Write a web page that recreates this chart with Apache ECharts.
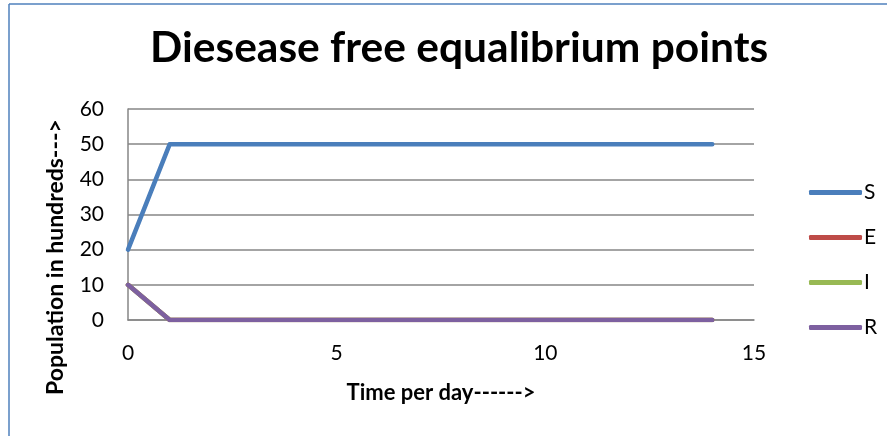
<!DOCTYPE html>
<html>
<head>
<meta charset="utf-8">
<script src="https://cdn.jsdelivr.net/npm/echarts@6/dist/echarts.min.js"></script>
<style>
  html, body { margin: 0; padding: 0; background: #fff; }
  #chart { width: 887px; height: 436px; }
</style>
</head>
<body>
<div id="chart"></div>
<script>
// Time (days) and compartment populations (hundreds)
const days = [0, 1, 2, 3, 4, 5, 6, 7, 8, 9, 10, 11, 12, 13, 14];
const susceptible = [20, 50, 50, 50, 50, 50, 50, 50, 50, 50, 50, 50, 50, 50, 50];
const exposed     = [10, 0, 0, 0, 0, 0, 0, 0, 0, 0, 0, 0, 0, 0, 0];
const infected    = [10, 0, 0, 0, 0, 0, 0, 0, 0, 0, 0, 0, 0, 0, 0];
const recovered   = [10, 0, 0, 0, 0, 0, 0, 0, 0, 0, 0, 0, 0, 0, 0];

const seriesNames = ['S', 'E', 'I', 'R'];
const seriesData = [susceptible, exposed, infected, recovered];
const seriesColors = ['#4a7ebb', '#be4b48', '#98b954', '#7d60a0'];

const FONT = 'Lato, "Open Sans", sans-serif';

const chart = echarts.init(document.getElementById('chart'));
chart.setOption({
  animation: false,
  backgroundColor: '#ffffff',
  title: {
    text: 'Diesease free equalibrium points',
    left: 145,
    top: 22,
    padding: [5, 0, 5, 5],
    textStyle: { fontFamily: FONT, fontWeight: 'bold', fontSize: 42.5, color: '#000' }
  },
  grid: { left: 128, right: 133, top: 109, bottom: 116, containLabel: false },
  legend: {
    orient: 'vertical',
    left: 804,
    top: 177,
    itemWidth: 53,
    itemHeight: 5,
    itemGap: 24,
    icon: 'roundRect',
    data: seriesNames,
    textStyle: { fontFamily: FONT, fontSize: 21, color: '#000', padding: [0, 0, 0, -3] }
  },
  xAxis: {
    type: 'value',
    min: 0,
    max: 15,
    interval: 5,
    name: 'Time per day------>',
    nameLocation: 'middle',
    nameGap: 62,
    nameTextStyle: { fontFamily: FONT, fontWeight: 'bold', fontSize: 22, color: '#000' },
    axisLine: { show: true, onZero: false, lineStyle: { color: '#868686', width: 1.5 } },
    axisTick: { show: false },
    splitLine: { show: false },
    axisLabel: { fontFamily: FONT, fontSize: 21, color: '#000', margin: 23 }
  },
  yAxis: {
    type: 'value',
    min: 0,
    max: 60,
    interval: 10,
    axisLine: { show: true, lineStyle: { color: '#868686', width: 1.5 } },
    axisTick: { show: false },
    splitLine: { show: true, lineStyle: { color: '#868686', width: 1.5 } },
    axisLabel: { fontFamily: FONT, fontSize: 21, color: '#000', margin: 24 }
  },
  graphic: [
    // Outer chart frame (left and top edges)
    { type: 'line', shape: { x1: 9, y1: 4, x2: 9, y2: 436 }, style: { stroke: '#4f81bd', lineWidth: 1.5 } },
    { type: 'line', shape: { x1: 9, y1: 4, x2: 887, y2: 4 }, style: { stroke: '#4f81bd', lineWidth: 1.5 } },
    {
      type: 'text',
      x: 56,
      y: 257,
      rotation: Math.PI / 2,
      style: {
        text: 'Population in hundreds--->',
        fontFamily: FONT,
        fontWeight: 'bold',
        fontSize: 23,
        fill: '#000',
        align: 'center',
        verticalAlign: 'middle'
      }
    }
  ],
  series: seriesNames.map((name, i) => ({
    name: name,
    type: 'line',
    data: days.map((d, k) => [d, seriesData[i][k]]),
    showSymbol: false,
    symbol: 'none',
    lineStyle: { color: seriesColors[i], width: 4.5, cap: 'round', join: 'round' },
    itemStyle: { color: seriesColors[i] },
    z: 2 + i
  }))
});
</script>
</body>
</html>
